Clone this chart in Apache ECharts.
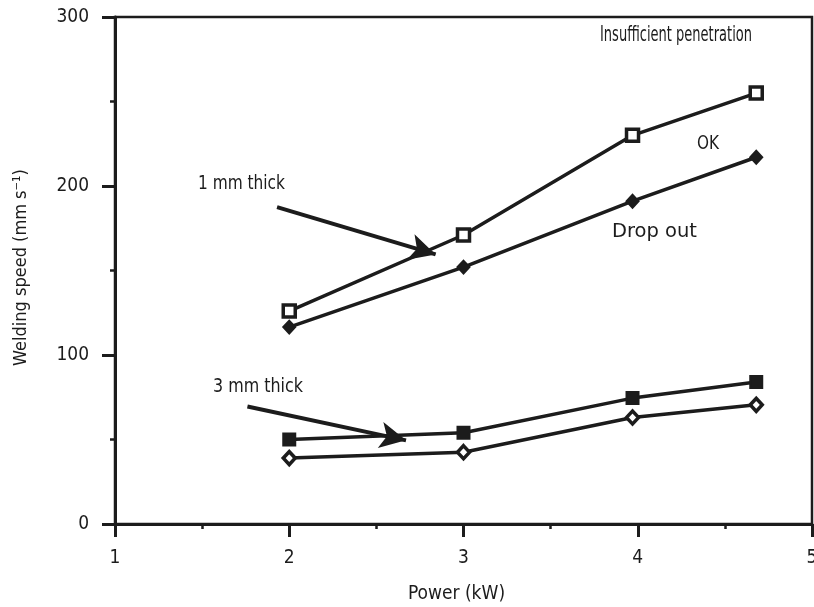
<!DOCTYPE html>
<html>
<head>
<meta charset="utf-8">
<script src="https://cdn.jsdelivr.net/npm/echarts@6/dist/echarts.min.js"></script>
<style>
  html, body { margin: 0; padding: 0; background: #fff; }
  #chart { width: 814px; height: 607px; }
</style>
</head>
<body>
<div id="chart"></div>
<script>
// values
const powerKW = [2, 3, 3.97, 4.68]
const thin1Upper = [126, 171, 230, 255]   // 1 mm, open squares
const thin1Lower = [116.5, 152, 191, 217] // 1 mm, filled diamonds
const thick3Upper = [50, 54, 74.5, 84]    // 3 mm, filled squares
const thick3Lower = [39, 42.5, 63, 70.5]  // 3 mm, open diamonds
const xTicks = [1, 2, 3, 4, 5]
const yTicks = [0, 100, 200, 300]
// arrow ends in data space
const arrow1mm = [[1.93, 187.5], [2.84, 159.5]]
const arrow3mm = [[1.76, 69.5], [2.67, 49.5]]

const FONT = "'DejaVu Sans Condensed', 'DejaVu Sans', sans-serif"
const INK = '#1c1c1c'

const pairs = (xs, ys) => xs.map((x, i) => [x, ys[i]])

function lineSeries (data, symbol, open) {
  return {
    type: 'line',
    data: data,
    symbol: symbol,
    symbolSize: symbol === 'rect' ? 12 : [12, 13],
    lineStyle: { color: INK, width: 3.5 },
    itemStyle: {
      color: open ? '#fff' : INK,
      borderColor: INK,
      borderWidth: open ? 3.5 : 2
    },
    z: 3
  }
}

function arrow (ends) {
  return {
    silent: true,
    symbol: ['none', 'arrow'],
    symbolSize: [20, 26],
    label: { show: false },
    lineStyle: { color: INK, width: 4, type: 'solid' },
    data: [[{ coord: ends[0] }, { coord: ends[1] }]]
  }
}

// condensed lettering: squeeze each label to the width it has in the picture
const measure = document.createElement('canvas').getContext('2d')
function label (x, y, width, s, size) {
  measure.font = size + 'px ' + FONT
  const w = measure.measureText(s).width
  return {
    type: 'text', x: x, y: y, scaleX: width / w,
    style: { text: s, font: size + 'px ' + FONT, fill: INK, textAlign: 'left', textVerticalAlign: 'middle' }
  }
}

const chart = echarts.init(document.getElementById('chart'))

const upper = lineSeries(pairs(powerKW, thin1Upper), 'rect', true)
upper.markLine = arrow(arrow1mm)
const lower3 = lineSeries(pairs(powerKW, thick3Upper), 'rect', false)
lower3.markLine = arrow(arrow3mm)

chart.setOption({
  animation: false,
  backgroundColor: '#fff',
  grid: {
    left: 115, right: 2, top: 17, bottom: 83,
    outerBoundsMode: 'none',
    show: true, borderColor: INK, borderWidth: 2.5
  },
  xAxis: {
    type: 'value', min: 1, max: 5, interval: 1,
    name: 'Power (kW)', nameLocation: 'middle', nameGap: 61,
    nameTextStyle: { fontFamily: FONT, fontSize: 19, color: INK, padding: [0, 14, 0, 0] },
    axisLine: { onZero: false, lineStyle: { color: INK, width: 3 } },
    axisTick: { inside: false, length: 13, lineStyle: { color: INK, width: 3 } },
    minorTick: { show: true, splitNumber: 2, length: 5, lineStyle: { color: INK, width: 2.5 } },
    splitLine: { show: false },
    axisLabel: {
      fontFamily: FONT, fontSize: 19, color: INK, margin: 25,
      formatter: v => (xTicks.includes(v) ? String(v) : '')
    }
  },
  yAxis: {
    type: 'value', min: 0, max: 300, interval: 100,
    name: 'Welding speed (mm s\u207B\u00B9)', nameLocation: 'middle', nameGap: 85,
    nameTextStyle: { fontFamily: FONT, fontSize: 18, color: INK, padding: [0, 0, 0, 6] },
    axisLine: { onZero: false, lineStyle: { color: INK, width: 3 } },
    axisTick: { inside: false, length: 13, lineStyle: { color: INK, width: 3 } },
    minorTick: { show: true, splitNumber: 2, length: 5, lineStyle: { color: INK, width: 2.5 } },
    splitLine: { show: false },
    axisLabel: {
      fontFamily: FONT, fontSize: 19, color: INK, margin: 26,
      formatter: v => (yTicks.includes(v) ? String(v) : '')
    }
  },
  series: [
    upper,
    lineSeries(pairs(powerKW, thin1Lower), 'diamond', false),
    lower3,
    lineSeries(pairs(powerKW, thick3Lower), 'diamond', true)
  ],
  graphic: [
    label(600, 36, 152, 'Insufficient penetration', 21),
    label(697, 144, 22, 'OK', 20),
    label(612, 232, 85, 'Drop out', 19),
    label(198, 184, 87, '1 mm thick', 20),
    label(213, 387, 90, '3 mm thick', 20)
  ]
})
</script>
</body>
</html>
